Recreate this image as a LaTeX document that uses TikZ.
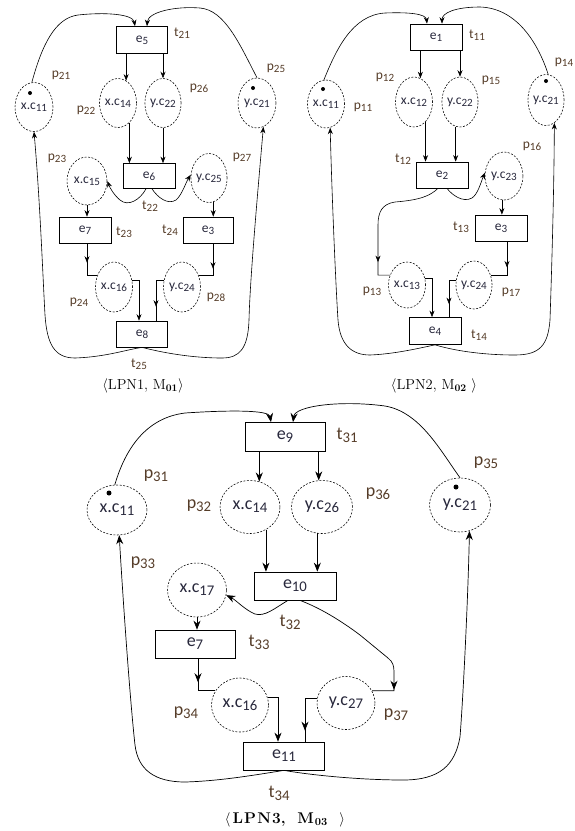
\documentclass[tikz,border=0pt]{standalone}
\usepackage{fontspec}
\usepackage{graphicx}
\setsansfont{Carlito}
\usetikzlibrary{shapes.geometric,arrows.meta,decorations.markings}
\definecolor{lbl}{RGB}{85,60,40}
\definecolor{txt}{RGB}{40,40,60}
\newcommand\lsub[1]{\raisebox{-0.35ex}{\scalebox{0.82}{#1}}}
\tikzset{
  place/.style={ellipse,draw,dash pattern=on 2pt off 1.5pt,inner sep=0pt,text=txt,line width=0.55pt},
  sz/.style 2 args={minimum width=#1,minimum height=#2},
  trans/.style={rectangle,draw,inner sep=0pt,text=txt,line width=0.7pt},
  sm/.style={font=\sffamily\fontsize{13.5}{15}\selectfont},
  bgf/.style={font=\sffamily\fontsize{18}{20}\selectfont},
  lab/.style={text=lbl,inner sep=0pt},
  tok/.style={circle,fill,inner sep=0pt,minimum size=#1},
  arcs/.style={-{Stealth[length=6.5pt,width=5pt]},line width=0.6pt},
  barc/.style={-{Stealth[length=9pt,width=7pt]},line width=0.7pt},
  backs/.style={{Stealth[length=6.5pt,width=5pt]}-,line width=0.6pt},
  bback/.style={{Stealth[length=9pt,width=7pt]}-,line width=0.7pt},
  midarr/.style={line width=0.6pt,postaction={decorate},decoration={markings,mark=at position -#1 with {\arrow{Stealth[length=6.5pt,width=5pt]}}}},
  bmidarr/.style={line width=0.7pt,postaction={decorate},decoration={markings,mark=at position -#1 with {\arrow{Stealth[length=9pt,width=7pt]}}}},
  capt/.style={inner sep=0pt}
}
\begin{document}
\begin{tikzpicture}[x=1pt,y=-1pt]
\useasboundingbox (0,0) rectangle (574,831);

%%%%%%%%%%%%%%%% LPN1 %%%%%%%%%%%%%%%%
\begin{scope}[every node/.append style={sm}]
\node[trans,sz={51}{27}] (Ae5) at (142,40) {e\lsub{5}};
\node[place,sz={38}{49}] (Ax11) at (34,107) {x.c\lsub{11}};
\node[tok=4pt] (At11) at (30,93) {};
\node[place,sz={35}{49}] (Ax14) at (118,103) {x.c\lsub{14}};
\node[place,sz={35}{49}] (Ay22) at (163,103) {y.c\lsub{22}};
\node[place,sz={38}{50}] (Ay21) at (257,103) {y.c\lsub{21}};
\node[tok=4pt] (At21) at (253,88) {};
\node[trans,sz={52}{25}] (Ae6) at (149,176) {e\lsub{6}};
\node[place,sz={40}{48}] (Ax15) at (87,181) {x.c\lsub{15}};
\node[place,sz={34}{49}] (Ay25) at (209,178) {y.c\lsub{25}};
\node[trans,sz={52}{26}] (Ae7) at (85,230) {e\lsub{7}};
\node[trans,sz={50}{26}] (Ae3) at (208,230) {e\lsub{3}};
\node[place,sz={37}{50}] (Ax16) at (114,287) {x.c\lsub{16}};
\node[place,sz={37}{50}] (Ay24) at (182,287) {y.c\lsub{24}};
\node[trans,sz={51}{26}] (Ae8) at (142,334) {e\lsub{8}};
\node[lab] (Lt21) at (182,33) {t\lsub{21}};
\node[lab] (Lp21) at (61,75) {p\lsub{21}};
\node[lab] (Lp25) at (276,68) {p\lsub{25}};
\node[lab] (Lp22) at (86,110) {p\lsub{22}};
\node[lab] (Lp26) at (199,88) {p\lsub{26}};
\node[lab] (Lp23) at (57,158) {p\lsub{23}};
\node[lab] (Lp27) at (242,157) {p\lsub{27}};
\node[lab] (Lt22) at (150,206) {t\lsub{22}};
\node[lab] (Lt23) at (124,232) {t\lsub{23}};
\node[lab] (Lt24) at (170,230) {t\lsub{24}};
\node[lab] (Lp24) at (79,302) {p\lsub{24}};
\node[lab] (Lp28) at (216,297) {p\lsub{28}};
\node[lab] (Lt25) at (139,364) {t\lsub{25}};
\end{scope}
\draw[arcs] (Ax11.95) .. controls (42,45) and (55,18) .. (78,15) .. controls (105,12) and (133,14) .. ([xshift=-7]Ae5.north);
\draw[arcs] (Ay21.north) .. controls (240,45) and (225,10) .. (200,8) .. controls (175,6) and (148,12) .. ([xshift=5]Ae5.north);
\draw[arcs] (Ax14.70 |- Ae5.south) -- (Ax14.70);
\draw[arcs] (Ay22.north |- Ae5.south) -- (Ay22.north);
\draw[arcs] (Ax14.-60) -- (Ax14.-60 |- Ae6.north);
\draw[arcs] (Ay22.south) -- (Ay22.south |- Ae6.north);
\draw[arcs] ([xshift=-3]Ae6.south) .. controls (140,200) and (128,207) .. (120,200) .. controls (114,195) and (110,188) .. (Ax15.east);
\draw[arcs] ([xshift=3]Ae6.south) .. controls (158,198) and (168,205) .. (176,200) .. controls (182,195) and (186,182) .. (Ay25.170);
\draw[arcs] (Ax15.south) -- (Ax15.south |- Ae7.north);
\draw[arcs] (Ay25.-80) -- (Ay25.-80 |- Ae3.north);
\draw[midarr=23pt] ([xshift=2]Ae7.south) |- (Ax16.145);
\draw[midarr=21pt] ([xshift=5]Ae3.south) |- (Ay24.35);
\draw[arcs] (Ax16.20) -| ([xshift=-3]Ae8.north);
\draw[midarr=14pt] (Ay24.160) -| ([xshift=14]Ae8.north);
\draw[backs] (Ax11.south) .. controls (40,200) and (43,280) .. (45,315) .. controls (47,345) and (55,358) .. (75,358) .. controls (105,357) and (125,350) .. (Ae8.south);
\draw[backs] (Ay21.-75) .. controls (257,200) and (250,280) .. (249,320) .. controls (248,348) and (240,358) .. (222,358) .. controls (190,358) and (160,352) .. (Ae8.south);
\node[capt,font=\fontsize{14.5}{16}\selectfont] (cap1) at (143,386) {$\langle$LPN1, M\textsubscript{\textbf{01}}$\rangle$};

%%%%%%%%%%%%%%%% LPN2 %%%%%%%%%%%%%%%%
\begin{scope}[every node/.append style={sm}]
\node[trans,sz={52}{26}] (Be1) at (436,37) {e\lsub{1}};
\node[place,sz={36}{48}] (Bx11) at (326,104) {x.c\lsub{11}};
\node[tok=4pt] (Bt11) at (323,89) {};
\node[place,sz={36}{50}] (Bx12) at (414,102) {x.c\lsub{12}};
\node[place,sz={36}{50}] (By22) at (460,102) {y.c\lsub{22}};
\node[place,sz={34}{51}] (By21) at (546,100) {y.c\lsub{21}};
\node[tok=4pt] (Bt21) at (546,81) {};
\node[trans,sz={52}{26}] (Be2) at (442,175) {e\lsub{2}};
\node[place,sz={38}{48}] (By23) at (504,176) {y.c\lsub{23}};
\node[trans,sz={52}{26}] (Be3) at (501,228) {e\lsub{3}};
\node[place,sz={36}{46}] (Bx13) at (407,285) {x.c\lsub{13}};
\node[place,sz={36}{48}] (By24) at (474,285) {y.c\lsub{24}};
\node[trans,sz={52}{27}] (Be4) at (435,331) {e\lsub{4}};
\node[lab] (Lt11) at (477,35) {t\lsub{11}};
\node[lab] (Lp11) at (363,107) {p\lsub{11}};
\node[lab] (Lp12) at (385,77) {p\lsub{12}};
\node[lab] (Lp15) at (491,80) {p\lsub{15}};
\node[lab] (Lp14) at (564,62) {p\lsub{14}};
\node[lab] (Lt12) at (403,159) {t\lsub{12}};
\node[lab] (Lp16) at (532,146) {p\lsub{16}};
\node[lab] (Lt13) at (461,227) {t\lsub{13}};
\node[lab] (Lp13) at (372,291) {p\lsub{13}};
\node[lab] (Lp17) at (511,292) {p\lsub{17}};
\node[lab] (Lt14) at (479,335) {t\lsub{14}};
\end{scope}
\draw[arcs] (Bx11.95) .. controls (336,50) and (352,15) .. (385,13) .. controls (410,12) and (426,14) .. ([xshift=-9]Be1.north);
\draw[arcs] (By21.85) .. controls (537,40) and (515,8) .. (480,7) .. controls (455,7) and (442,13) .. ([xshift=6]Be1.north);
\draw[arcs] (Bx12.75 |- Be1.south) -- (Bx12.75);
\draw[arcs] (By22.north |- Be1.south) -- (By22.north);
\draw[arcs] (Bx12.-60) -- (Bx12.-60 |- Be2.north);
\draw[arcs] (By22.-100) -- (By22.-100 |- Be2.north);
\draw[arcs] ([xshift=5]Be2.south) .. controls (452,195) and (463,203) .. (472,198) .. controls (478,194) and (481,182) .. (By23.170);
\draw[midarr=25pt] ([xshift=-4]Be2.south) .. controls (430,196) and (420,200) .. (395,202) .. controls (382,204) and (378,212) .. (378,225) |- (Bx13.150);
\draw[arcs] (By23.-95) -- (By23.-95 |- Be3.north);
\draw[midarr=24pt] ([xshift=6]Be3.south) |- (By24.30);
\draw[arcs] (Bx13.20) -| ([xshift=-3]Be4.north);
\draw[midarr=13pt] (By24.165) -| ([xshift=14]Be4.north);
\draw[backs] (Bx11.-80) .. controls (332,200) and (336,290) .. (338,320) .. controls (340,345) and (352,355) .. (370,355) .. controls (395,354) and (420,348) .. (Be4.south);
\draw[backs] (By21.-70) .. controls (554,200) and (551,290) .. (550,320) .. controls (548,345) and (540,355) .. (515,355) .. controls (480,355) and (452,350) .. (Be4.south);
\node[capt,font=\fontsize{14.5}{16}\selectfont] (cap2) at (434,386) {$\langle$LPN2, M\textsubscript{\textbf{02}}\ $\rangle$};

%%%%%%%%%%%%%%%% LPN3 %%%%%%%%%%%%%%%%
\begin{scope}[every node/.append style={bgf}]
\node[trans,sz={80}{29}] (Ce9) at (285,437) {e\lsub{9}};
\node[place,sz={60}{50}] (Cx11) at (117,510) {x.c\lsub{11}};
\node[tok=5pt] (Ct11) at (109,493) {};
\node[place,sz={60}{53}] (Cx14) at (250,507) {x.c\lsub{14}};
\node[place,sz={61}{53}] (Cy26) at (322,507) {y.c\lsub{26}};
\node[place,sz={61}{54}] (Cy21) at (460,505) {y.c\lsub{21}};
\node[tok=5pt] (Ct21) at (456,487) {};
\node[trans,sz={82}{28}] (Ce10) at (295,586) {e\lsub{10}};
\node[place,sz={59}{54}] (Cx17) at (197,590) {x.c\lsub{17}};
\node[trans,sz={80}{28}] (Ce7) at (195,644) {e\lsub{7}};
\node[place,sz={57}{54}] (Cx16) at (240,705) {x.c\lsub{16}};
\node[place,sz={58}{53}] (Cy27) at (346,703) {y.c\lsub{27}};
\node[trans,sz={81}{28}] (Ce11) at (284,756) {e\lsub{11}};
\node[lab] (Lt31) at (347,435) {t\lsub{31}};
\node[lab] (Lp31) at (156,476) {p\lsub{31}};
\node[lab] (Lp32) at (199,506) {p\lsub{32}};
\node[lab] (Lp36) at (378,494) {p\lsub{36}};
\node[lab] (Lp35) at (486,463) {p\lsub{35}};
\node[lab] (Lp33) at (143,563) {p\lsub{33}};
\node[lab] (Lt32) at (290,622) {t\lsub{32}};
\node[lab] (Lt33) at (259,642) {t\lsub{33}};
\node[lab] (Lp34) at (186,713) {p\lsub{34}};
\node[lab] (Lp37) at (396,715) {p\lsub{37}};
\node[lab] (Lt34) at (279,793) {t\lsub{34}};
\end{scope}
\draw[barc] (Cx11.95) .. controls (125,450) and (145,418) .. (185,413) .. controls (230,410) and (269,410) .. ([xshift=-14]Ce9.north);
\draw[barc] (Cy21.north) .. controls (440,450) and (420,412) .. (385,406) .. controls (340,400) and (295,406) .. ([xshift=8]Ce9.north);
\draw[barc] (Cx14.70 |- Ce9.south) -- (Cx14.70);
\draw[barc] (Cy26.97 |- Ce9.south) -- (Cy26.97);
\draw[barc] (Cx14.-55) -- (Cx14.-55 |- Ce10.north);
\draw[barc] (Cy26.-100) -- (Cy26.-100 |- Ce10.north);
\draw[barc] ([xshift=-7]Ce10.south) .. controls (275,608) and (265,617) .. (255,614) .. controls (245,610) and (236,600) .. (Cx17.-10);
\draw[bmidarr=23pt] ([xshift=5]Ce10.south) .. controls (320,608) and (340,620) .. (360,635) -- (388,658) .. controls (393,662) and (394,666) .. (394,672) |- (Cy27.25);
\draw[barc] (Cx17.south) -- (Cx17.south |- Ce7.north);
\draw[bmidarr=26pt] ([xshift=3]Ce7.south) |- (Cx16.150);
\draw[barc] (Cx16.15) -| ([xshift=-6]Ce11.north);
\draw[bmidarr=11pt] (Cy27.170) -| ([xshift=21]Ce11.north);
\draw[bback] (Cx11.-85) .. controls (123,600) and (130,700) .. (135,745) .. controls (138,770) and (155,782) .. (185,782) .. controls (220,781) and (255,775) .. (Ce11.south);
\draw[bback] (Cy21.-70) .. controls (468,600) and (463,700) .. (460,737) .. controls (455,765) and (440,780) .. (403,780) .. controls (360,780) and (310,775) .. (Ce11.south);
\node[capt,font=\fontsize{15.5}{17}\selectfont\bfseries] (cap3) at (285,820) {$\langle$\kern2pt L\kern1.2pt P\kern1.2pt N\kern1.2pt 3, \ M\kern1pt\textsubscript{03}\ \ $\rangle$};
\end{tikzpicture}
\end{document}
